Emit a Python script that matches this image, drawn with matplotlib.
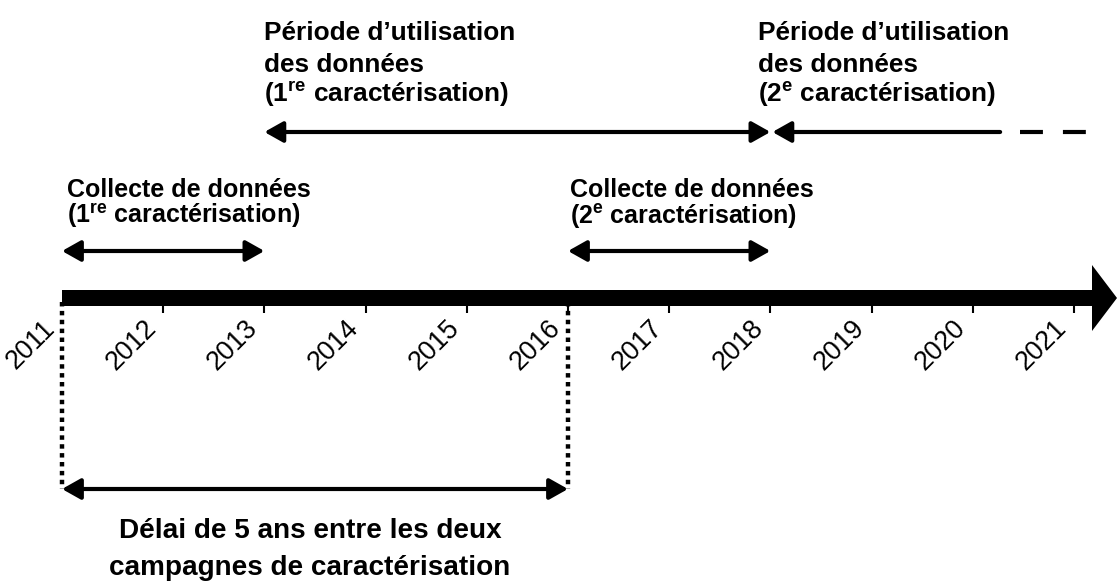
import matplotlib
matplotlib.use("Agg")
import matplotlib.pyplot as plt
from matplotlib import font_manager

installed = {f.name for f in font_manager.fontManager.ttflist}
narrow = 'Liberation Sans Narrow' in installed
main_font = 'Liberation Sans Narrow' if narrow else 'Liberation Sans'
k = 1.0 if narrow else 0.82  # size factor when no narrow face exists

plt.rcParams['font.family'] = [main_font, 'DejaVu Sans']
plt.rcParams['mathtext.fontset'] = 'custom'
plt.rcParams['mathtext.rm'] = main_font + ':bold'
plt.rcParams['mathtext.bf'] = main_font + ':bold'

# Timeline
years = list(range(2011, 2022))
year_labels = [str(y) for y in years]

# Periods (start year, end year)
collect_1 = (2011, 2013)
collect_2 = (2016, 2018)
use_1 = (2013, 2018)
use_2 = (2018, 2020.27)
use_2_dashed = (2020.27, 2021.17)
delay = (2011, 2016)

# Labels
use_text_1 = ["Période d’utilisation", "des données",
              "(1$^{\\mathrm{re}}$ caractérisation)"]
use_text_2 = ["Période d’utilisation", "des données",
              "(2$^{\\mathrm{e}}$ caractérisation)"]
collect_text_1 = ["Collecte de données", "(1$^{\\mathrm{re}}$ caractérisation)"]
collect_text_2 = ["Collecte de données", "(2$^{\\mathrm{e}}$ caractérisation)"]
delay_text = ["Délai de 5 ans entre les deux", "campagnes de caractérisation"]

# Vertical levels (pixel-like units, top = 0)
y_axis = 298
y_use = 132
y_collect = 251
y_delay = 489
use_baselines = [40, 72, 102]
collect_baselines = [197, 224]
delay_baselines = [538, 575]

px_per_year = 101.2
x0 = 2011 - 62 / px_per_year
x1 = 2011 + (1117 - 62) / px_per_year

fig = plt.figure(figsize=(11.17, 5.84), dpi=100)
ax = fig.add_axes([0, 0, 1, 1])
ax.set_xlim(x0, x1)
ax.set_ylim(584, 0)
ax.axis('off')

# Main timeline arrow
ax.arrow(years[0], y_axis, x1 - years[0], 0, width=16, head_width=66,
         head_length=25 / px_per_year, length_includes_head=True,
         color='black', lw=0)

# Ticks and labels
for yr, lab in zip(years, year_labels):
    if yr != years[0]:
        ax.plot([yr, yr], [y_axis + 7, y_axis + 15], color='black', lw=1.5,
                solid_capstyle='butt')
    ax.text(yr - 0.2, y_axis + 17, lab, rotation=45, rotation_mode='anchor',
            ha='right', va='top', fontsize=23.5 * k)

# Dotted verticals for the delay
for yr in delay:
    ax.plot([yr, yr], [y_axis + 4, y_delay], color='black', lw=3.2,
            linestyle=(0, (1, 1)), solid_capstyle='butt', dash_capstyle='butt')


def double_arrow(span, y):
    ax.annotate('', xy=(span[1], y), xytext=(span[0], y),
                arrowprops=dict(arrowstyle='<|-|>,head_length=0.8,head_width=0.45',
                                lw=3.0, color='black', shrinkA=0, shrinkB=0,
                                mutation_scale=14))


def left_arrow(span, y):
    ax.annotate('', xy=(span[0], y), xytext=(span[1], y),
                arrowprops=dict(arrowstyle='-|>,head_length=0.8,head_width=0.45',
                                lw=3.0, color='black', shrinkA=0, shrinkB=0,
                                mutation_scale=14))


double_arrow(collect_1, y_collect)
double_arrow(collect_2, y_collect)
double_arrow(use_1, y_use)
left_arrow((use_2[0] + 0.02, use_2[1]), y_use)
ax.plot(use_2_dashed, [y_use, y_use], color='black', lw=3.0,
        linestyle=(5.5, (5.5, 4.8)), dash_capstyle='butt')
double_arrow(delay, y_delay)


def block(x, baselines, lines, size, ha='left'):
    for yb, line in zip(baselines, lines):
        ax.text(x, yb, line, fontweight='bold', ha=ha, va='baseline',
                fontsize=size * k)


block(use_1[0], use_baselines, use_text_1, 23)
block(use_2[0] - 0.12, use_baselines, use_text_2, 23)
block(collect_1[0] + 0.05, collect_baselines, collect_text_1, 22)
block(collect_2[0] + 0.02, collect_baselines, collect_text_2, 22)
block((delay[0] + delay[1]) / 2 - 0.05, delay_baselines, delay_text, 24.5,
      ha='center')

fig.savefig('out.png', dpi=100)
